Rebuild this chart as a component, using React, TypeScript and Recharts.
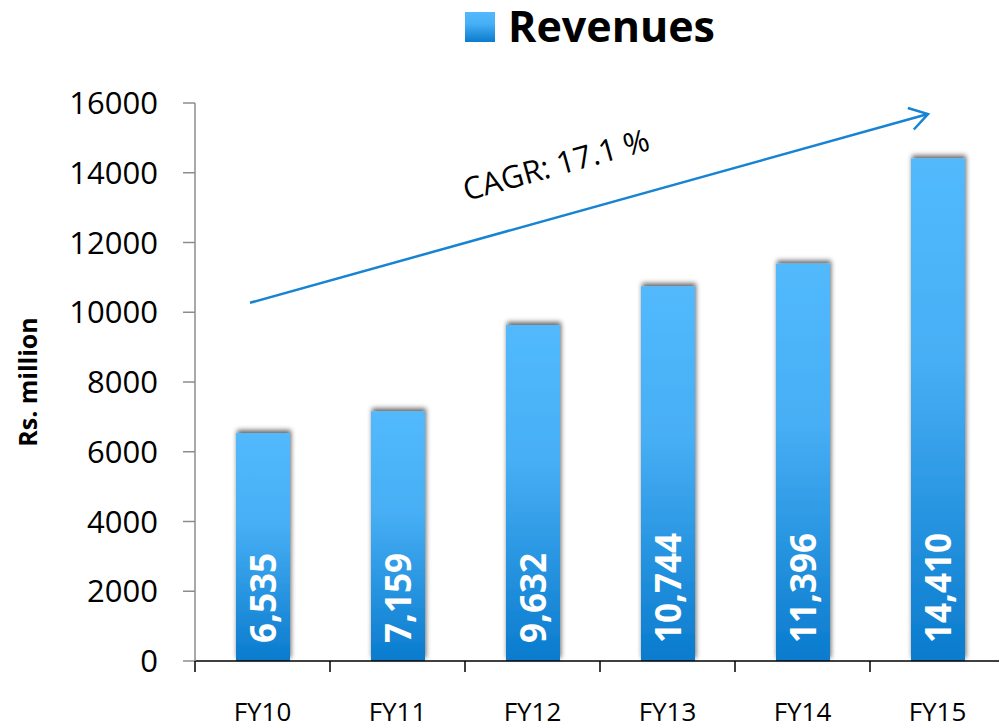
import React from 'react';
import { BarChart, Bar, XAxis, YAxis, LabelList, Legend, ReferenceLine } from 'recharts';

const categories = ['FY10', 'FY11', 'FY12', 'FY13', 'FY14', 'FY15'];
const revenues = [6535, 7159, 9632, 10744, 11396, 14410];
const yTicks = [0, 2000, 4000, 6000, 8000, 10000, 12000, 14000, 16000];
const seriesName = 'Revenues';
const cagrLabel = 'CAGR: 17.1 %';
const trendStart = { x: 'FY10', y: 10370 };
const trendEnd = { x: 'FY15', y: 15760 };

const data = categories.map((c, i) => ({ name: c, value: revenues[i] }));

const CHART_W = 1010;
const CHART_H = 728;
const LEGEND_H = 50;
const MARGIN = { top: 103 - LEGEND_H, right: 5, bottom: 0, left: 0 };
const Y_W = 195;
const X_H = 67;
const PLOT_W = CHART_W - MARGIN.left - MARGIN.right - Y_W;
const HALF_BAND = PLOT_W / categories.length / 2;

const XTick = (props: any) => {
  const { x, y, payload } = props;
  return (
    <g>
      <line x1={x - HALF_BAND} x2={x - HALF_BAND} y1={y} y2={y + 11} stroke="#000" strokeWidth={1.5} />
      <text x={x} y={y + 60} textAnchor="middle" fontFamily="'Open Sans', sans-serif" fontSize={26} fill="#000">
        {payload.value}
      </text>
    </g>
  );
};

const BarShape = (props: any) => {
  const { x, y, width, height } = props;
  return <rect x={x} y={y} width={width} height={height} fill="url(#barGrad)" filter="url(#barShadow)" />;
};

const BarLabel = (props: any) => {
  const { x, y, width, height, value } = props;
  const cx = x + width / 2;
  const bottom = y + height;
  return (
    <text
      transform={`translate(${cx + 12.5}, ${bottom - 18}) rotate(-90)`}
      textAnchor="start"
      fontFamily="'Liberation Sans Narrow', 'Open Sans', sans-serif"
      fontWeight="bold"
      fontSize={35}
      fill="#fff"
    >
      {Number(value).toLocaleString('en-US')}
    </text>
  );
};

const TrendArrow = (props: any) => {
  const { x1, y1, x2, y2 } = props;
  if ([x1, y1, x2, y2].some((v) => typeof v !== 'number' || isNaN(v))) return null;
  const slope = (y2 - y1) / (x2 - x1);
  const sx = x1 - 12.5;
  const sy = y1 - slope * 12.5;
  const ex = x2 - 9.5;
  const ey = y2 - slope * 9.5;
  const ang = Math.atan2(ey - sy, ex - sx);
  const wing = 21;
  const spread = (32 * Math.PI) / 180;
  const w1x = ex - wing * Math.cos(ang - spread);
  const w1y = ey - wing * Math.sin(ang - spread);
  const w2x = ex - wing * Math.cos(ang + spread);
  const w2y = ey - wing * Math.sin(ang + spread);
  const mx = (sx + ex) / 2;
  const my = (sy + ey) / 2;
  const dx = Math.cos(ang);
  const dy = Math.sin(ang);
  const nx = dy;
  const ny = -dx;
  const tx = mx + nx * 52 - dx * 20;
  const ty = my + ny * 52 - dy * 20;
  const deg = (ang * 180) / Math.PI;
  return (
    <g>
      <line x1={sx} y1={sy} x2={ex} y2={ey} stroke="#1683d3" strokeWidth={2.5} />
      <polyline points={`${w1x},${w1y} ${ex},${ey} ${w2x},${w2y}`} fill="none" stroke="#1683d3" strokeWidth={2.5} />
      <text
        transform={`translate(${tx}, ${ty}) rotate(${deg})`}
        textAnchor="middle"
        dominantBaseline="central"
        fontFamily="'Open Sans', sans-serif"
        fontSize={31}
        fill="#000"
      >
        {cagrLabel}
      </text>
    </g>
  );
};

const LegendContent = () => (
  <div style={{ position: 'relative', width: 999, height: LEGEND_H }}>
    <div
      style={{
        position: 'absolute',
        left: 465,
        top: 12,
        width: 30,
        height: 30,
        background: 'linear-gradient(to bottom, #52b9fd 0%, #47aff5 40%, #0a7bcd 100%)',
      }}
    />
    <div
      style={{
        position: 'absolute',
        left: 508,
        top: 4,
        fontFamily: "'Open Sans', sans-serif",
        fontWeight: 'bold',
        fontSize: 43,
        lineHeight: '43px',
        color: '#000',
        whiteSpace: 'nowrap',
      }}
    >
      {seriesName}
    </div>
  </div>
);

const YLabel = (props: any) => {
  const vb = props.viewBox || {};
  const cx = 27;
  const cy = (vb.y ?? 103) + (vb.height ?? 558) / 2;
  return (
    <text
      transform={`translate(${cx + 10}, ${cy}) rotate(-90)`}
      textAnchor="middle"
      fontFamily="'Open Sans', sans-serif"
      fontWeight="bold"
      fontSize={25}
      fill="#000"
    >
      Rs. million
    </text>
  );
};

export default function App() {
  return (
    <div style={{ position: 'absolute', left: 0, top: 0, width: 999, height: 728, overflow: 'hidden', background: '#fff' }}>
      <BarChart width={CHART_W} height={CHART_H} data={data} margin={MARGIN}>
        <defs>
          <linearGradient id="barGrad" x1="0" y1="0" x2="0" y2="1">
            <stop offset="0%" stopColor="#52b9fd" />
            <stop offset="40%" stopColor="#47aff5" />
            <stop offset="100%" stopColor="#0a7bcd" />
          </linearGradient>
          <filter id="barShadow" x="-30%" y="-10%" width="160%" height="120%">
            <feDropShadow dx="1" dy="-3" stdDeviation="2.5" floodColor="#000" floodOpacity="0.6" />
          </filter>
        </defs>
        <Legend verticalAlign="top" align="left" wrapperStyle={{ top: 0, left: 0, width: 999, height: LEGEND_H, margin: 0, padding: 0 }} content={<LegendContent />} />
        <XAxis
          dataKey="name"
          height={X_H}
          axisLine={{ stroke: '#000', strokeWidth: 1.5 }}
          tickLine={false}
          tickSize={0}
          tickMargin={0}
          tick={<XTick />}
          interval={0}
        />
        <YAxis
          width={Y_W}
          domain={[0, 16000]}
          ticks={yTicks}
          interval={0}
          axisLine={{ stroke: '#8c8c8c', strokeWidth: 1.5 }}
          tickLine={{ stroke: '#8c8c8c', strokeWidth: 1.5 }}
          tickSize={12}
          tickMargin={25}
          tick={{ fill: '#000', fontSize: 31, fontFamily: "'Open Sans', sans-serif" }}
          label={{ content: <YLabel /> }}
        />
        <Bar dataKey="value" name={seriesName} barSize={54} shape={<BarShape />} isAnimationActive={false}>
          <LabelList dataKey="value" content={<BarLabel />} />
        </Bar>
        <ReferenceLine segment={[trendStart, trendEnd]} shape={<TrendArrow />} ifOverflow="visible" />
      </BarChart>
    </div>
  );
}
